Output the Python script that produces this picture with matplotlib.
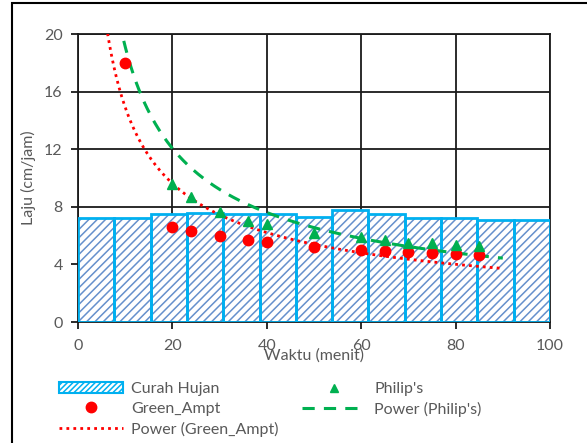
import numpy as np
import matplotlib
matplotlib.use("Agg")
import matplotlib.pyplot as plt
from matplotlib.lines import Line2D
from matplotlib.patches import Rectangle

plt.rcParams['font.family'] = ['Lato', 'DejaVu Sans']
plt.rcParams['hatch.linewidth'] = 1.1

# Rainfall (Curah Hujan), 13 equal-width columns across 0-100
rain_values = [7.2, 7.2, 7.5, 7.6, 7.5, 7.5, 7.27, 7.8, 7.5, 7.2, 7.2, 7.08, 7.08]

# Green_Ampt infiltration rate
ga_time = [10, 20, 24, 30, 36, 40, 50, 60, 65, 70, 75, 80, 85]
ga_rate = [18.0, 6.57, 6.32, 5.97, 5.69, 5.55, 5.23, 5.0, 4.95, 4.84, 4.77, 4.72, 4.65]

# Philip's infiltration rate
ph_time = [20, 24, 30, 36, 40, 50, 60, 65, 70, 75, 80, 85]
ph_rate = [9.58, 8.7, 7.66, 7.04, 6.8, 6.16, 5.88, 5.69, 5.5, 5.46, 5.37, 5.28]

# Power trendline coefficients (y = a * x^b)
ga_a, ga_b = 63.9, -0.632
ph_a, ph_b = 88.4, -0.665
trend_start, trend_end = 5, 90

xticks = [0, 20, 40, 60, 80, 100]
yticks = [0, 4, 8, 12, 16, 20]

fig = plt.figure(figsize=(5.87, 4.43), dpi=100)
ax = fig.add_axes([78/587, 1-322/443, (550-78)/587, (322-34)/443])

# chart area border
fig.patches.append(Rectangle((12/587, -0.1), 1.2, 1-3/443+0.1, transform=fig.transFigure,
                             fill=False, edgecolor='black', linewidth=1.5, zorder=0))

n = len(rain_values)
w = 100 / n
centers = [(i + 0.5) * w for i in range(n)]
hatch_col = '#6690cc'
edge_col = '#00B0F0'
ax.bar(centers, rain_values, width=w, color='white', edgecolor=hatch_col,
       hatch='////', linewidth=0, zorder=2)
ax.bar(centers, rain_values, width=w, fill=False, edgecolor=edge_col,
       linewidth=2, zorder=3)

xs = np.linspace(trend_start, trend_end, 300)
ax.plot(xs, ga_a * xs ** ga_b, color='#FF0000', linestyle=(0, (1, 1.5)), linewidth=2, zorder=4)
ax.plot(xs, ph_a * xs ** ph_b, color='#00B050', linestyle=(0, (4, 3)), linewidth=2.2, zorder=4)

ax.plot(ga_time, ga_rate, 'o', color='#FF0000', markersize=7.5, zorder=5, linestyle='none')
ax.plot(ph_time, ph_rate, '^', color='#00B050', markersize=7, zorder=5, linestyle='none')

ax.set_xlim(0, 100)
ax.set_ylim(0, 20)
ax.set_xticks(xticks)
ax.set_yticks(yticks)
ax.grid(True, color='#1a1a1a', linewidth=1.3, zorder=1)
ax.set_axisbelow(True)
for s in ax.spines.values():
    s.set_color('#1a1a1a')
    s.set_linewidth(1.3)
ax.tick_params(axis='both', direction='out', length=5, width=1.3, color='#1a1a1a',
               labelcolor='#595959', labelsize=11.5)
ax.tick_params(axis='x', pad=7)
ax.tick_params(axis='y', pad=6)
ax.set_xlabel('Waktu (menit)', color='#595959', fontsize=11.5, labelpad=-3)
ax.set_ylabel('Laju (cm/jam)', color='#595959', fontsize=11.5, labelpad=6)

h_bar = Rectangle((0, 0), 1, 1, facecolor='white', edgecolor=edge_col, hatch='//////', linewidth=1.5)
h_ga = Line2D([], [], marker='o', color='#FF0000', linestyle='none', markersize=7.5)
h_gap = Line2D([], [], color='#FF0000', linestyle=(0, (1, 1.5)), linewidth=2)
h_ph = Line2D([], [], marker='^', color='#00B050', linestyle='none', markersize=6)
h_php = Line2D([], [], color='#00B050', linestyle=(0, (4, 3)), linewidth=2.2)

leg = fig.legend([h_bar, h_ga, h_gap, h_ph, h_php],
                 ['Curah Hujan', 'Green_Ampt', 'Power (Green_Ampt)', "Philip's", "Power (Philip's)"],
                 ncol=2, loc='upper left', bbox_to_anchor=(51/587, 1-374/443),
                 frameon=False, fontsize=11.5, handlelength=4.0, handletextpad=0.5,
                 columnspacing=1.5, labelspacing=0.35, borderpad=0, labelcolor='#595959')

fig.savefig('out.png', dpi=100)
